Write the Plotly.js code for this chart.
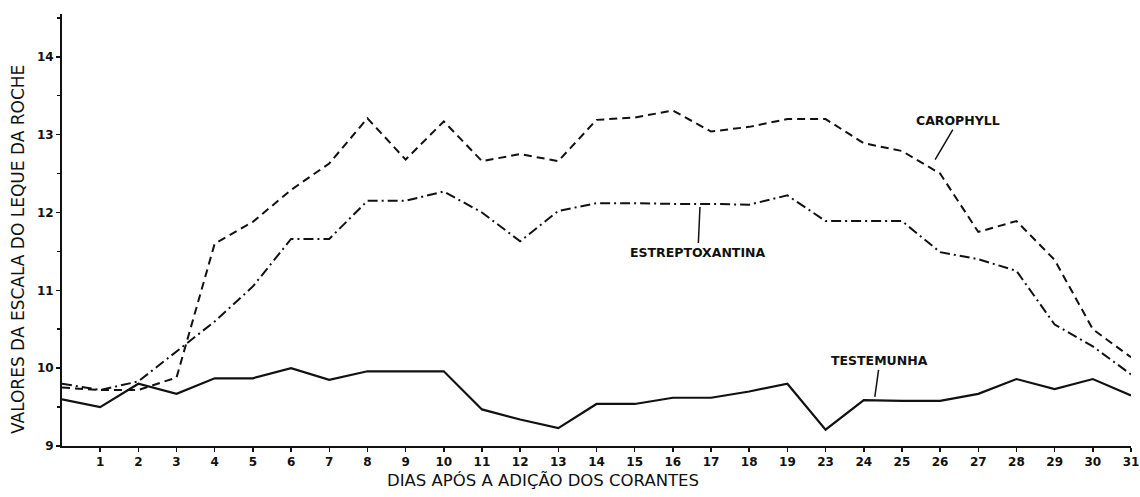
<!DOCTYPE html>
<html>
<head>
<meta charset="utf-8">
<script src="https://cdn.plot.ly/plotly-3.0.1.min.js"></script>
<style>html,body{margin:0;padding:0;background:#fff;}#chart{width:1140px;height:497px;}</style>
</head>
<body>
<div id="chart"></div>
<script>
const days = ['0','1','2','3','4','5','6','7','8','9','10','11','12','13','14','15','16','17','18','19','23','24','25','26','27','28','29','30','31'];
const tickLabels = ['1','2','3','4','5','6','7','8','9','10','11','12','13','14','15','16','17','18','19','23','24','25','26','27','28','29','30','31'];
const carophyll = [9.75,9.72,9.72,9.88,11.6,11.88,12.29,12.63,13.21,12.68,13.17,12.66,12.75,12.66,13.19,13.22,13.31,13.04,13.1,13.2,13.2,12.89,12.79,12.5,11.75,11.89,11.39,10.5,10.14];
const estreptoxantina = [9.8,9.72,9.83,10.22,10.6,11.05,11.66,11.66,12.15,12.15,12.27,12.0,11.63,12.02,12.12,12.12,12.11,12.11,12.1,12.22,11.89,11.89,11.89,11.49,11.4,11.25,10.56,10.28,9.92];
const testemunha = [9.6,9.5,9.8,9.67,9.87,9.87,10.0,9.85,9.96,9.96,9.96,9.47,9.34,9.23,9.54,9.54,9.62,9.62,9.7,9.8,9.21,9.59,9.58,9.58,9.67,9.86,9.73,9.86,9.65];
const xTitle = 'DIAS APÓS A ADIÇÃO DOS CORANTES';
const yTitle = 'VALORES DA ESCALA DO LEQUE DA ROCHE';

const ink = '#111';
const fam = 'DejaVu Sans, sans-serif';

const traces = [
  {x: days, y: carophyll, type: 'scatter', mode: 'lines', name: 'CAROPHYLL',
   line: {color: ink, width: 2, dash: '8px,5px'}},
  {x: days, y: estreptoxantina, type: 'scatter', mode: 'lines', name: 'ESTREPTOXANTINA',
   line: {color: ink, width: 2, dash: '10px,4px,2px,4px'}},
  {x: days, y: testemunha, type: 'scatter', mode: 'lines', name: 'TESTEMUNHA',
   line: {color: ink, width: 2.2}}
];

const tickFont = {family: fam, size: 12, color: ink, weight: 'bold'};
const labelFont = {family: fam, size: 12.5, color: ink, weight: 'bold'};

const layout = {
  width: 1140, height: 497,
  margin: {l: 62, r: 9, t: 14, b: 51},
  paper_bgcolor: '#fff', plot_bgcolor: '#fff',
  showlegend: false,
  font: {family: fam, size: 12, color: ink},
  xaxis: {
    type: 'category', range: [0, 28],
    tickmode: 'array', tickvals: tickLabels, ticktext: tickLabels,
    showgrid: false, zeroline: false,
    showline: true, linecolor: ink, linewidth: 2,
    ticks: 'outside', ticklen: 4, tickcolor: ink, tickwidth: 1.5,
    tickfont: tickFont
  },
  yaxis: {
    range: [9, 14.55], dtick: 1, tick0: 9,
    showgrid: false, zeroline: false,
    showline: true, linecolor: ink, linewidth: 2,
    ticks: 'outside', ticklen: 4, tickcolor: ink, tickwidth: 1.5,
    minor: {dtick: 0.5, ticks: 'outside', ticklen: 3, tickcolor: ink, showgrid: false},
    tickfont: tickFont
  },
  annotations: [
    {xref: 'paper', yref: 'paper', x: 0.45, y: -0.081, text: xTitle, showarrow: false,
     xanchor: 'center', yanchor: 'middle', font: {family: fam, size: 16.5, color: ink}},
    {xref: 'paper', yref: 'paper', x: -0.041, y: 0.454, text: yTitle, showarrow: false,
     textangle: -90, xanchor: 'center', yanchor: 'middle', font: {family: fam, size: 17, color: ink}},
    {x: 22.87, y: 12.68, xref: 'x', yref: 'y', text: 'CAROPHYLL', showarrow: true,
     arrowhead: 0, arrowwidth: 1.5, arrowcolor: ink, ax: 23, ay: -39, font: labelFont},
    {x: 16.71, y: 12.07, xref: 'x', yref: 'y', text: 'ESTREPTOXANTINA', showarrow: true,
     arrowhead: 0, arrowwidth: 1.5, arrowcolor: ink, ax: -2, ay: 45, font: labelFont},
    {x: 21.29, y: 9.63, xref: 'x', yref: 'y', text: 'TESTEMUNHA', showarrow: true,
     arrowhead: 0, arrowwidth: 1.5, arrowcolor: ink, ax: 5, ay: -36, font: labelFont}
  ]
};

Plotly.newPlot('chart', traces, layout, {staticPlot: true, displayModeBar: false});
</script>
</body>
</html>
